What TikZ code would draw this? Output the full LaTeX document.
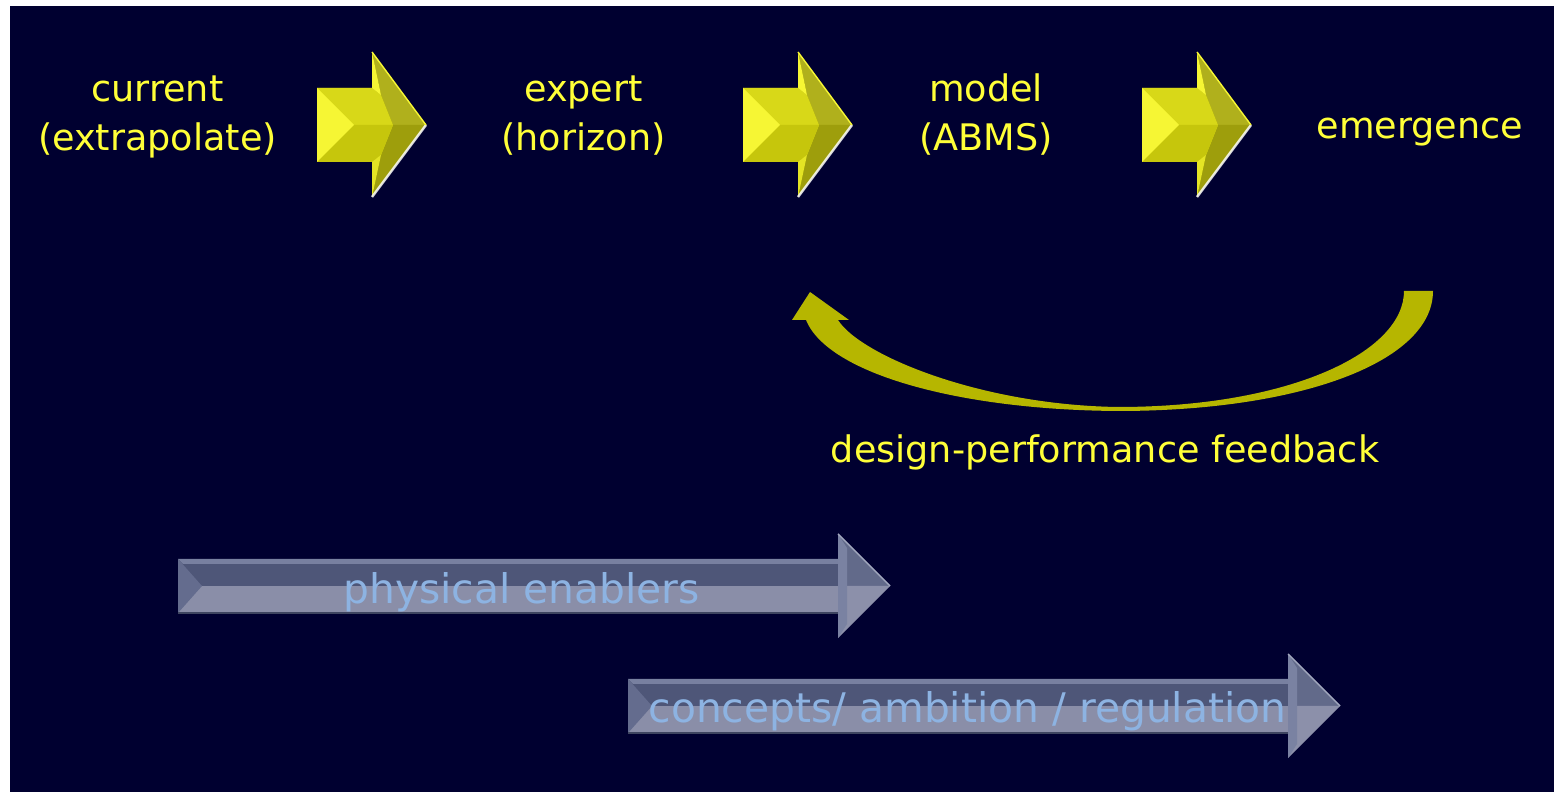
\documentclass[tikz,border=0pt]{standalone}
\usepackage{fontspec}
\setmainfont{DejaVu Sans}
\definecolor{navy}{RGB}{0,0,48}
\definecolor{ytext}{RGB}{255,255,56}
\definecolor{yol}{RGB}{150,150,0}
\definecolor{ytop}{RGB}{176,176,28}
\definecolor{ybot}{RGB}{158,158,12}
\definecolor{yface}{RGB}{216,216,24}
\definecolor{yfacelow}{RGB}{198,198,12}
\definecolor{ybright}{RGB}{246,246,52}
\definecolor{ybright2}{RGB}{228,228,36}
\definecolor{ycurve}{RGB}{182,182,0}
\definecolor{bdark}{RGB}{78,86,120}
\definecolor{blight}{RGB}{138,142,168}
\definecolor{btop}{RGB}{120,128,160}
\definecolor{bbevel}{RGB}{100,108,142}
\definecolor{bhead1}{RGB}{98,106,138}
\definecolor{bhead2}{RGB}{140,144,170}
\definecolor{bstrip}{RGB}{122,130,162}
\definecolor{btext}{RGB}{141,179,226}
\tikzset{
  ylabel/.style={text=ytext, font=\fontsize{10.4}{14.2}\selectfont, align=center, inner sep=0pt, anchor=base},
  blabel/.style={text=btext, font=\fontsize{11.6}{14}\selectfont, inner sep=0pt, anchor=base},
  yarrow/.pic={
    \fill[yol] (0,-37) -- (55,-37) -- (55,-73) -- (109,0) -- (55,72) -- (55,37) -- (0,37) -- cycle;
    \fill[ytop] (55,-73) -- (109,0) -- (76,0) -- (64,-30) -- cycle;
    \fill[ybot] (55,72) -- (109,0) -- (76,0) -- (64,30) -- cycle;
    \fill[yface] (0,-37) -- (55,-37) -- (64,-30) -- (76,0) -- (64,30) -- (55,37) -- (0,37) -- cycle;
    \fill[yfacelow] (0,37) -- (37,0) -- (76,0) -- (64,30) -- (55,37) -- cycle;
    \fill[ybright] (0,-37) -- (37,0) -- (0,37) -- cycle;
    \fill[ybright] (55,-73) -- (55,-37) -- (64,-30) -- cycle;
    \fill[ybright2] (55,72) -- (55,37) -- (64,30) -- cycle;
    \draw[white, line width=0.7pt, opacity=0.85] (109,0) -- (55,72);
    \draw[ybright, line width=0.4pt] (55,-73) -- (109,0);
  },
  barrow/.pic={
    \fill[bdark] (0,-27) rectangle (660,0);
    \fill[blight] (0,0) rectangle (660,27);
    \fill[btop] (0,-27) -- (660,-27) -- (660,-22) -- (5,-22) -- cycle;
    \fill[bbevel] (0,-27) -- (24,0) -- (0,27) -- cycle;
    \fill[bhead1] (660,-52) -- (712,0) -- (660,0) -- cycle;
    \fill[bhead2] (660,0) -- (712,0) -- (660,52) -- cycle;
    \fill[bstrip] (660,-52) -- (669,-38) -- (669,38) -- (660,52) -- cycle;
    \draw[bstrip!70!white, line width=0.4pt] (660,-52) -- (712,0);
    \draw[bdark!80!black, line width=0.4pt] (0,27) -- (660,27);
  }
}
\begin{document}
\begin{tikzpicture}[x=0.01cm, y=-0.01cm]
\useasboundingbox (0,0) rectangle (1554,792);
\fill[white] (0,0) rectangle (1554,792);
\fill[navy] (10,6) rectangle (1554,792);

% top row labels (base anchor = baseline of the last line)
\node[ylabel] (current) at (157.5,151) {current\\(extrapolate)};
\node[ylabel] (expert) at (583.5,151) {expert\\(horizon)};
\node[ylabel] (model) at (986,151) {model\\(ABMS)};
\node[ylabel] (emergence) at (1420,139) {emergence};

% block arrows between them
\pic (ya1) at (317,125) {yarrow};
\pic (ya2) at (743,125) {yarrow};
\pic (ya3) at (1142,125) {yarrow};

% feedback curved arrow
\coordinate (fbstart) at (1418,291);
\coordinate (fbtip) at (810,292);
\fill[ycurve] (1433,291) -- (1404,291)
  .. controls (1404,352) and (1290,407) .. (1118,407)
  .. controls (980,405) and (860,355) .. (838,320)
  -- (849,320) -- (fbtip) -- (792,320) -- (806,320)
  .. controls (828,374) and (960,410) .. (1118,411)
  .. controls (1300,411) and (1433,362) .. (1433,291) -- cycle;
\node[ylabel] (feedback) at (1105,463) {design-performance feedback};

% lower arrows
\pic (ba1) at (178,586) {barrow};
\pic (ba2) at (628,706) {barrow};
\node[blabel] (physical) at (521.5,604) {physical enablers};
\node[blabel] (concepts) at (967.5,723) {concepts/ ambition / regulation};
\end{tikzpicture}
\end{document}
